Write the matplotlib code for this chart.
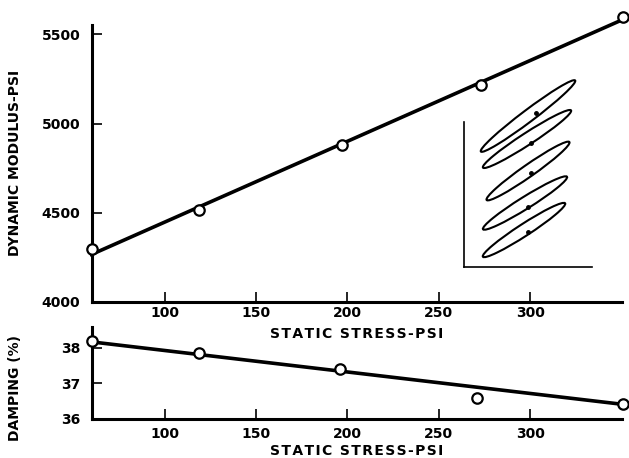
import matplotlib
matplotlib.use('Agg')
import matplotlib.pyplot as plt
from matplotlib.patches import Ellipse

# dynamic modulus vs static stress (top panel)
mod_stress = [60, 119, 197, 273, 351]
mod_psi = [4294, 4514, 4879, 5216, 5598]
mod_fit_x = [60, 351]
mod_fit_y = [4265, 5585]

# damping vs static stress (bottom panel)
damp_stress = [60, 119, 196, 271, 351]
damp_pct = [38.20, 37.86, 37.41, 36.59, 36.42]
damp_fit_x = [60, 351]
damp_fit_y = [38.17, 36.41]

x_ticks = [100, 150, 200, 250, 300]
mod_ticks = [4000, 4500, 5000, 5500]
damp_ticks = [36, 37, 38]

# hysteresis loops sketch (inset, units are pixels of the inset box)
loop_cx = [64, 63, 64, 61, 60]
loop_cy = [151, 128, 96, 64, 37]
loop_len = [118, 105, 101, 99, 98]
loop_ang = [37, 33, 35, 32, 33]
dot_x = [72, 67, 67, 64, 64]
dot_y = [154, 124, 94, 60, 35]


def spaced(s):
    return '\u200a'.join(s)


FONT = dict(family='DejaVu Sans', weight='bold', size=10)

fig = plt.figure(figsize=(6.29, 4.58), dpi=100)

ax1 = fig.add_axes([0.1455, 0.3413, 0.8426, 0.6041])
ax2 = fig.add_axes([0.1455, 0.0852, 0.8426, 0.2009])
ax2.patch.set_alpha(0)

for ax in (ax1, ax2):
    for side in ('top', 'right'):
        ax.spines[side].set_visible(False)
    ax.spines['left'].set_linewidth(2.2)
    ax.spines['bottom'].set_linewidth(2.2)
    ax.set_xlim(60, 350)
    ax.set_xticks(x_ticks)
    ax.tick_params(direction='in', length=7.5, width=1.2)

ax1.plot(mod_fit_x, mod_fit_y, color='black', lw=2.6, clip_on=False, zorder=2)
ax1.plot(mod_stress, mod_psi, 'o', ms=7.5, mfc='white', mec='black', mew=1.6,
         clip_on=False, zorder=3)
ax1.set_ylim(4000, 5553)
ax1.set_yticks(mod_ticks)
ax1.set_xticklabels([str(t) for t in x_ticks], fontdict=FONT)
ax1.set_yticklabels([str(t) for t in mod_ticks], fontdict=FONT)
ax1.tick_params(axis='x', pad=3)
ax1.tick_params(axis='y', pad=8)
ax1.set_xlabel(spaced('STATIC STRESS-PSI'), fontdict=FONT)
ax1.xaxis.set_label_coords(0.5, -0.093)
ax1.set_ylabel('DYNAMIC MODULUS-PSI', fontdict=FONT)
ax1.yaxis.set_label_coords(-0.131, 0.5)

ax2.plot(damp_fit_x, damp_fit_y, color='black', lw=2.6, clip_on=False, zorder=2)
ax2.plot(damp_stress, damp_pct, 'o', ms=7.5, mfc='white', mec='black', mew=1.6,
         clip_on=False, zorder=3)
ax2.set_ylim(36, 38.59)
ax2.set_yticks(damp_ticks)
ax2.set_xticklabels([str(t) for t in x_ticks], fontdict=FONT)
ax2.set_yticklabels([str(t) for t in damp_ticks], fontdict=FONT)
ax2.tick_params(axis='x', pad=6)
ax2.tick_params(axis='y', pad=8)
ax2.set_xlabel(spaced('STATIC STRESS-PSI'), fontdict=FONT)
ax2.xaxis.set_label_coords(0.5, -0.275)
ax2.set_ylabel('DAMPING (%)', fontdict=FONT)
ax2.yaxis.set_label_coords(-0.131, 0.34)

# inset sketch of the loops
axi = fig.add_axes([0.7377, 0.4170, 0.2035, 0.3166])
axi.set_xlim(0, 128)
axi.set_ylim(0, 145)
axi.set_xticks([])
axi.set_yticks([])
axi.patch.set_alpha(0)
for side in ('top', 'right'):
    axi.spines[side].set_visible(False)
axi.spines['left'].set_linewidth(1.2)
axi.spines['bottom'].set_linewidth(1.2)
for cx, cy, ln, an in zip(loop_cx, loop_cy, loop_len, loop_ang):
    axi.add_patch(Ellipse((cx, cy), ln, 12, angle=an, fill=False,
                          ec='black', lw=1.5, clip_on=False))
axi.plot(dot_x, dot_y, 'o', ms=2.5, color='black', clip_on=False)

fig.savefig('out.png', dpi=100)
